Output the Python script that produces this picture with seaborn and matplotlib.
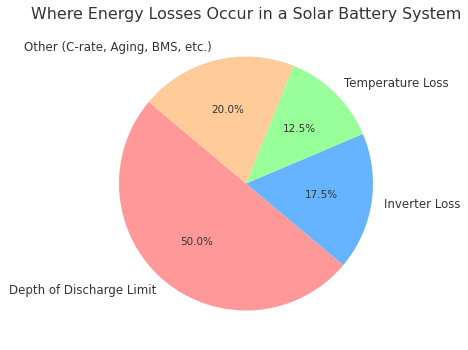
import matplotlib
matplotlib.use("Agg")
import matplotlib.pyplot as plt
import seaborn as sns

sns.set_style("white")
plt.rcParams['font.family'] = ['DejaVu Sans']

# Where the stored energy gets lost
labels = ["Depth of Discharge Limit", "Inverter Loss", "Temperature Loss",
          "Other (C-rate, Aging, BMS, etc.)"]
shares = [50.0, 17.5, 12.5, 20.0]
colors = ["#ff9999", "#66b3ff", "#99ff99", "#ffcc99"]

fig = plt.figure(figsize=(4.68, 3.5), dpi=100)
ax = fig.add_axes([0.1864, 0.0221, 0.6784, 0.9071])

wedges, texts, autotexts = ax.pie(
    shares, labels=labels, colors=colors, autopct="%1.1f%%",
    startangle=140, textprops={"color": "#333333", "fontsize": 8.5},
    wedgeprops={"linewidth": 0},
)
for t in autotexts:
    t.set_fontsize(7.5)
ax.set_aspect("equal")

fig.text(246 / 468, 1 - 14 / 350, "Where Energy Losses Occur in a Solar Battery System",
         ha="center", va="center", fontsize=11.4, color="#333333")

fig.savefig("out.png", dpi=100)
